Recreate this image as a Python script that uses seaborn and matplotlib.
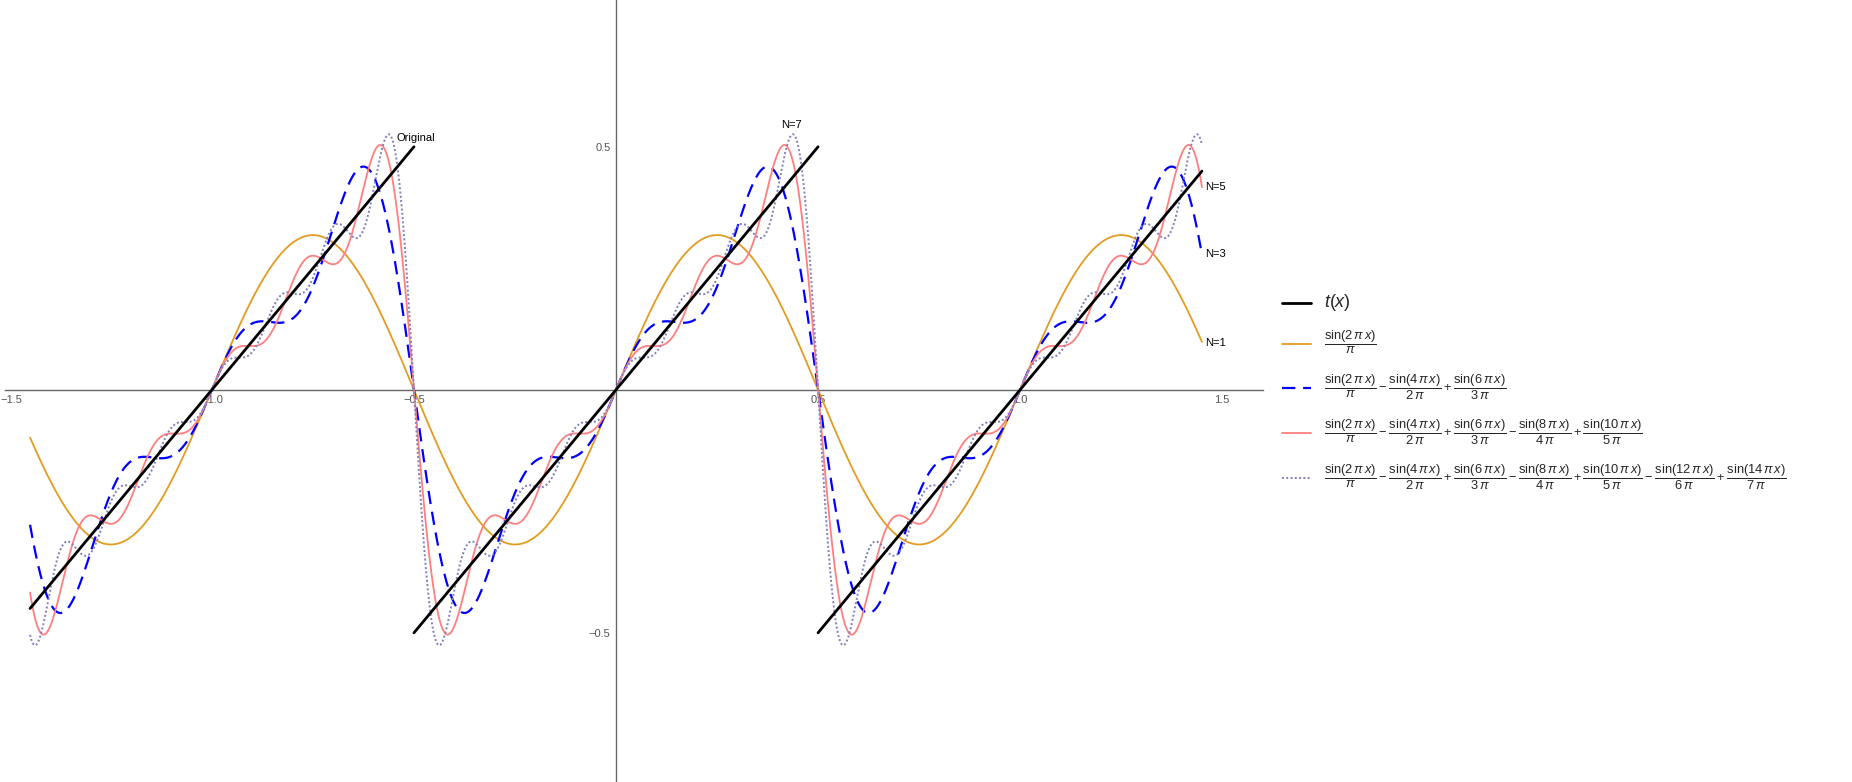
import numpy as np
import pandas as pd
import matplotlib
matplotlib.use("Agg")
import matplotlib.pyplot as plt
import matplotlib.transforms as mtransforms
from matplotlib.lines import Line2D
import seaborn as sns

# Fourier series of the sawtooth t(x) = x - round(x)
harmonics = [1, 2, 3, 4, 5, 6, 7]
signs = [1, -1, 1, -1, 1, -1, 1]
partial_orders = [1, 3, 5, 7]
x_range = [-1.45, 1.45]

# sawtooth pieces: (start, end, offset) so that t = x + offset
saw_starts = [-1.45, -0.5, 0.5]
saw_ends = [-0.5, 0.5, 1.45]
saw_offsets = [1.0, 0.0, -1.0]

x_ticks = [-1.5, -1.0, -0.5, 0.5, 1.0, 1.5]
x_ticklabels = ["\u22121.5", "\u22121.0", "\u22120.5", "0.5", "1.0", "1.5"]
y_ticks = [-0.5, 0.5]
y_ticklabels = ["\u22120.5", "0.5"]

series_colors = ["#E29C22", "#0000FF", "#FF7F7F", "#7F7FBF"]
series_styles = ["-", (0, (6, 3.5)), "-", (0, (1, 1.2))]
series_widths = [1.3, 1.6, 1.3, 1.4]

curve_labels = ["N=1", "N=3", "N=5", "N=7"]
curve_label_pos = [(1.458, 0.097), (1.458, 0.28), (1.458, 0.418), (0.433, 0.545)]

legend_labels = [
    r"$t(x)$",
    r"$\dfrac{\sin(2\,\pi\,x)}{\pi}$",
    r"$\dfrac{\sin(2\,\pi\,x)}{\pi}\:-\:\dfrac{\sin(4\,\pi\,x)}{2\,\pi}\:+\:\dfrac{\sin(6\,\pi\,x)}{3\,\pi}$",
    r"$\dfrac{\sin(2\,\pi\,x)}{\pi}\:-\:\dfrac{\sin(4\,\pi\,x)}{2\,\pi}\:+\:\dfrac{\sin(6\,\pi\,x)}{3\,\pi}"
    r"\:-\:\dfrac{\sin(8\,\pi\,x)}{4\,\pi}\:+\:\dfrac{\sin(10\,\pi\,x)}{5\,\pi}$",
    r"$\dfrac{\sin(2\,\pi\,x)}{\pi}\:-\:\dfrac{\sin(4\,\pi\,x)}{2\,\pi}\:+\:\dfrac{\sin(6\,\pi\,x)}{3\,\pi}"
    r"\:-\:\dfrac{\sin(8\,\pi\,x)}{4\,\pi}\:+\:\dfrac{\sin(10\,\pi\,x)}{5\,\pi}"
    r"\:-\:\dfrac{\sin(12\,\pi\,x)}{6\,\pi}\:+\:\dfrac{\sin(14\,\pi\,x)}{7\,\pi}$",
]

sns.set_style("white")
plt.rcParams["font.family"] = ["Liberation Sans", "DejaVu Sans"]
plt.rcParams["mathtext.fontset"] = "custom"
plt.rcParams["mathtext.rm"] = "Liberation Sans"
plt.rcParams["mathtext.it"] = "Liberation Sans:italic"
plt.rcParams["mathtext.bf"] = "Liberation Sans:bold"

x = np.linspace(x_range[0], x_range[1], 3000)

saw_parts = []
for i, (a, b, off) in enumerate(zip(saw_starts, saw_ends, saw_offsets)):
    xs = np.linspace(a, b, 50)
    saw_parts.append(pd.DataFrame({"x": xs, "y": xs + off, "seg": i}))
saw = pd.concat(saw_parts, ignore_index=True)

fig = plt.figure(figsize=(18.52, 7.82), dpi=100)
ax = fig.add_axes([5 / 1852, 0, 1258 / 1852, 1])

for k, n in enumerate(partial_orders):
    y = np.zeros_like(x)
    for h, s in zip(harmonics[:n], signs[:n]):
        y += s * np.sin(2 * np.pi * h * x) / (h * np.pi)
    sns.lineplot(x=x, y=y, ax=ax, color=series_colors[k], linestyle=series_styles[k],
                 linewidth=series_widths[k], sort=False, legend=False, zorder=2 + k)

sns.lineplot(data=saw, x="x", y="y", units="seg", estimator=None, ax=ax, color="black",
             linewidth=2.0, legend=False, zorder=10)

for lab, (lx, ly) in zip(curve_labels, curve_label_pos):
    ha = "center" if lab == "N=7" else "left"
    ax.text(lx, ly, lab, fontsize=8, ha=ha, va="center", color="black")
ax.text(-0.542, 0.518, "Original", fontsize=8, ha="left", va="center", color="black")

ax.set_xlim(-1.512, 1.601)
ax.set_ylim(-0.807, 0.802)
ax.set_xlabel("")
ax.set_ylabel("")
for side in ["top", "right"]:
    ax.spines[side].set_visible(False)
for side in ["left", "bottom"]:
    ax.spines[side].set_position(("data", 0))
    ax.spines[side].set_color("#666666")
    ax.spines[side].set_linewidth(1.0)
ax.set_xticks(x_ticks)
ax.set_xticklabels(x_ticklabels)
ax.set_yticks(y_ticks)
ax.set_yticklabels(y_ticklabels)
ax.tick_params(axis="both", direction="in", length=3, width=0.6, color="#666666",
               labelcolor="#555555", labelsize=8, pad=4)
ax.patch.set_alpha(0)

# keep the leftmost tick label inside the picture
first = ax.get_xticklabels()[0]
first.set_horizontalalignment("left")
first.set_transform(first.get_transform() +
                    mtransforms.ScaledTranslation(-9 / 100, 0, fig.dpi_scale_trans))

# legend
leg_handles = [Line2D([], [], color="black", linewidth=2.0)]
for k in range(4):
    leg_handles.append(Line2D([], [], color=series_colors[k], linestyle=series_styles[k],
                              linewidth=series_widths[k]))
leg = fig.legend(leg_handles, legend_labels, loc="center left",
                 bbox_to_anchor=(1270 / 1852, 1 - 392 / 782), frameon=False,
                 fontsize=9.3, handlelength=2.3, handletextpad=1.0, labelspacing=1.25)
leg.get_texts()[0].set_fontsize(13)

fig.savefig("out.png", dpi=100)
